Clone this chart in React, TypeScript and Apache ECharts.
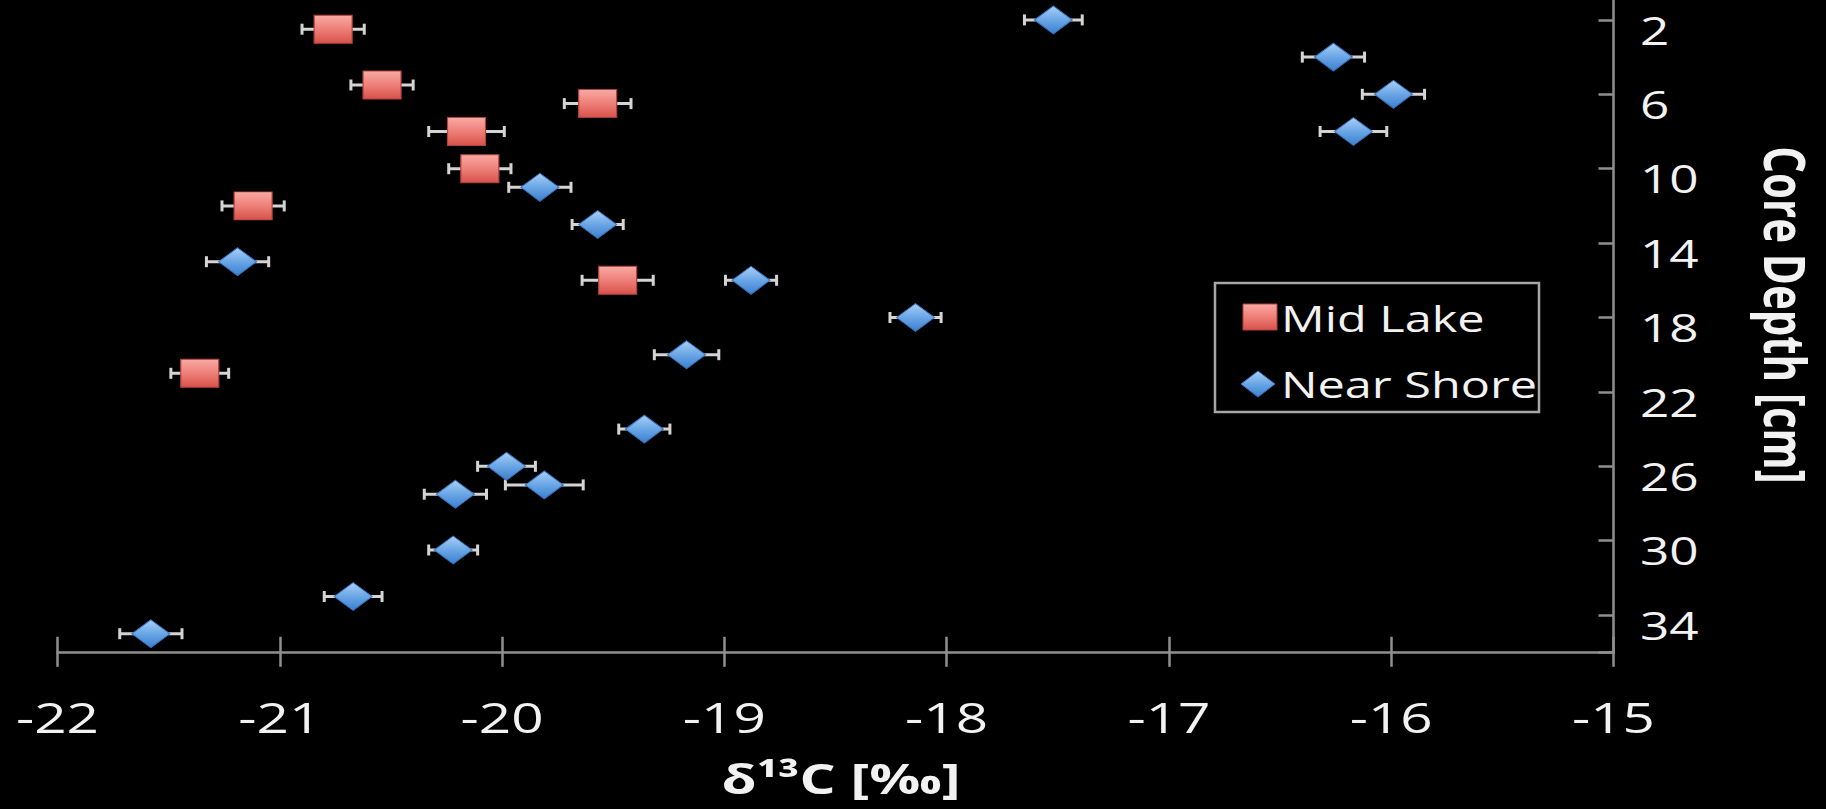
import React, { useEffect, useRef } from "react";
import * as echarts from "echarts";

// ---- data ----
const X_TICKS = [-22, -21, -20, -19, -18, -17, -16, -15];
const Y_TICKS = [2, 6, 10, 14, 18, 22, 26, 30, 34];

const MID_LAKE_D13C = [-20.76, -20.54, -19.57, -20.16, -20.1, -21.12, -19.48, -21.36];
const MID_LAKE_DEPTH = [2.5, 5.5, 6.5, 8, 10, 12, 16, 21];
const MID_LAKE_ERR = [0.14, 0.14, 0.15, 0.17, 0.14, 0.14, 0.16, 0.13];

const NEAR_SHORE_D13C = [
  -17.52, -16.26, -15.99, -16.17, -19.83, -19.57, -21.19, -18.88, -18.14,
  -19.17, -19.36, -19.98, -19.81, -20.21, -20.22, -20.67, -21.58,
];
const NEAR_SHORE_DEPTH = [2, 4, 6, 8, 11, 13, 15, 16, 18, 20, 24, 26, 27, 27.5, 30.5, 33, 35];
const NEAR_SHORE_ERR = [
  0.13, 0.14, 0.14, 0.15, 0.14, 0.115, 0.14, 0.115, 0.115, 0.145, 0.115, 0.13,
  0.175, 0.14, 0.11, 0.13, 0.14,
];

const SERIES_NAMES = ["Mid Lake", "Near Shore"];
const X_TITLE = "δ¹³C [‰]";
const Y_TITLE = "Core Depth [cm]";

// ---- style ----
const FONT = '"Open Sans", "DejaVu Sans", sans-serif';
const TEXT = "#f2f2f2";
const AXIS = "#8f8f8f";
const SX = 1.35;
// the chart canvas starts above the page so the axis top (depth -2) is cut off
const OFF = 60;

const redFill = {
  type: "linear", x: 0, y: 0, x2: 0, y2: 1,
  colorStops: [
    { offset: 0, color: "#f8aaa4" },
    { offset: 0.5, color: "#ee7f78" },
    { offset: 1, color: "#d6524b" },
  ],
};
const blueFill = {
  type: "linear", x: 0, y: 0, x2: 0, y2: 1,
  colorStops: [
    { offset: 0, color: "#a9d0f6" },
    { offset: 0.5, color: "#6aa6e6" },
    { offset: 1, color: "#3b7fcf" },
  ],
};

function errorSeries(name: string, xs: number[], ys: number[], es: number[]) {
  return {
    type: "custom",
    name,
    silent: true,
    z: 1,
    data: xs.map((x, i) => [x, ys[i], es[i]]),
    encode: { x: 0, y: 1 },
    renderItem: (_p: any, api: any) => {
      const x = api.value(0);
      const y = api.value(1);
      const e = api.value(2);
      const a = api.coord([x - e, y]);
      const b = api.coord([x + e, y]);
      const h = 5.5;
      const style = { stroke: "#d4d4d4", lineWidth: 3 };
      return {
        type: "group",
        children: [
          { type: "line", shape: { x1: a[0], y1: a[1], x2: b[0], y2: b[1] }, style },
          { type: "line", shape: { x1: a[0], y1: a[1] - h, x2: a[0], y2: a[1] + h }, style },
          { type: "line", shape: { x1: b[0], y1: b[1] - h, x2: b[0], y2: b[1] + h }, style },
        ],
      };
    },
  };
}

export default function App() {
  const ref = useRef<HTMLDivElement>(null);

  useEffect(() => {
    if (!ref.current) return;
    const chart = echarts.init(ref.current, null, { renderer: "svg" });
    const axisLineStyle = { color: AXIS, width: 2.5 };
    chart.setOption({
      animation: false,
      backgroundColor: "#000000",
      grid: { left: 57.5, right: 212.5, top: OFF - 54.5, bottom: 156.7, containLabel: false },
      xAxis: [
        {
          type: "value", min: -22, max: -15, interval: 1, position: "bottom",
          axisLine: { onZero: false, lineStyle: axisLineStyle },
          axisTick: { inside: true, length: 15.5, lineStyle: axisLineStyle },
          axisLabel: { show: false },
          splitLine: { show: false },
        },
        {
          type: "value", min: -22, max: -15, interval: 1, position: "bottom",
          axisLine: { show: false, onZero: false },
          axisTick: { inside: false, length: 14.5, lineStyle: axisLineStyle },
          axisLabel: { show: false },
          splitLine: { show: false },
        },
      ],
      yAxis: {
        type: "value", inverse: true, min: -2, max: 36, interval: 4, position: "right",
        axisLine: { onZero: false, lineStyle: axisLineStyle },
        axisTick: { inside: true, length: 15, lineStyle: axisLineStyle },
        axisLabel: { show: false },
        splitLine: { show: false },
      },
      series: [
        errorSeries("Mid Lake error", MID_LAKE_D13C, MID_LAKE_DEPTH, MID_LAKE_ERR),
        errorSeries("Near Shore error", NEAR_SHORE_D13C, NEAR_SHORE_DEPTH, NEAR_SHORE_ERR),
        {
          type: "scatter", name: SERIES_NAMES[0], z: 3,
          symbol: "rect", symbolSize: [38, 28],
          itemStyle: { color: redFill, borderColor: "#b1433d", borderWidth: 1, opacity: 1 },
          data: MID_LAKE_D13C.map((x, i) => [x, MID_LAKE_DEPTH[i]]),
        },
        {
          type: "scatter", name: SERIES_NAMES[1], z: 3,
          symbol: "diamond", symbolSize: [38, 28],
          itemStyle: { color: blueFill, borderColor: "#3570b8", borderWidth: 1, opacity: 1 },
          data: NEAR_SHORE_D13C.map((x, i) => [x, NEAR_SHORE_DEPTH[i]]),
        },
      ],
    });

    const g: any[] = [];
    X_TICKS.forEach((v) => {
      const px = chart.convertToPixel({ xAxisIndex: 0 }, v) as number;
      g.push({
        type: "text", x: px, y: OFF + 717, scaleX: SX, silent: true,
        style: { text: String(v), fill: TEXT, fontSize: 42, fontFamily: FONT, align: "center", verticalAlign: "middle" },
      });
    });
    Y_TICKS.forEach((v) => {
      const py = chart.convertToPixel({ yAxisIndex: 0 }, v) as number;
      g.push({
        type: "text", x: 1640, y: py + 10, scaleX: SX, silent: true,
        style: { text: String(v), fill: TEXT, fontSize: 38, fontFamily: FONT, align: "left", verticalAlign: "middle" },
      });
    });
    // axis titles
    g.push({
      type: "text", x: 841, y: OFF + 778, scaleX: SX, silent: true,
      style: { text: X_TITLE, fill: TEXT, fontSize: 42, fontWeight: "bold", fontFamily: FONT, align: "center", verticalAlign: "middle" },
    });
    g.push({
      type: "text", x: 1786, y: OFF + 315, rotation: -Math.PI / 2, scaleY: SX, silent: true,
      style: { text: Y_TITLE, fill: TEXT, fontSize: 42, fontWeight: "bold", fontFamily: FONT, align: "center", verticalAlign: "middle" },
    });
    // legend
    g.push({
      type: "rect", silent: true,
      shape: { x: 1215, y: OFF + 283, width: 324, height: 129 },
      style: { fill: "#000000", stroke: "#a6a6a6", lineWidth: 2.5 },
      z: 10,
    });
    g.push({
      type: "rect", silent: true, z: 11,
      shape: { x: 1243, y: OFF + 304, width: 34, height: 26 },
      style: { fill: redFill, stroke: "#b1433d", lineWidth: 1 },
    });
    g.push({
      type: "polygon", silent: true, z: 11,
      shape: { points: [[1258, OFF + 371], [1275, OFF + 384], [1258, OFF + 397], [1241, OFF + 384]] },
      style: { fill: blueFill, stroke: "#3570b8", lineWidth: 1 },
    });
    g.push({
      type: "text", x: 1281, y: OFF + 318, scaleX: SX, silent: true, z: 11,
      style: { text: SERIES_NAMES[0], fill: TEXT, fontSize: 36, fontFamily: FONT, align: "left", verticalAlign: "middle" },
    });
    g.push({
      type: "text", x: 1281, y: OFF + 384, scaleX: SX, silent: true, z: 11,
      style: { text: SERIES_NAMES[1], fill: TEXT, fontSize: 36, fontFamily: FONT, align: "left", verticalAlign: "middle" },
    });
    chart.setOption({ graphic: g });

    return () => chart.dispose();
  }, []);

  return (
    <div
      ref={ref}
      style={{ position: "fixed", left: 0, top: -OFF, width: 1826, height: 809 + OFF, background: "#000" }}
    />
  );
}
